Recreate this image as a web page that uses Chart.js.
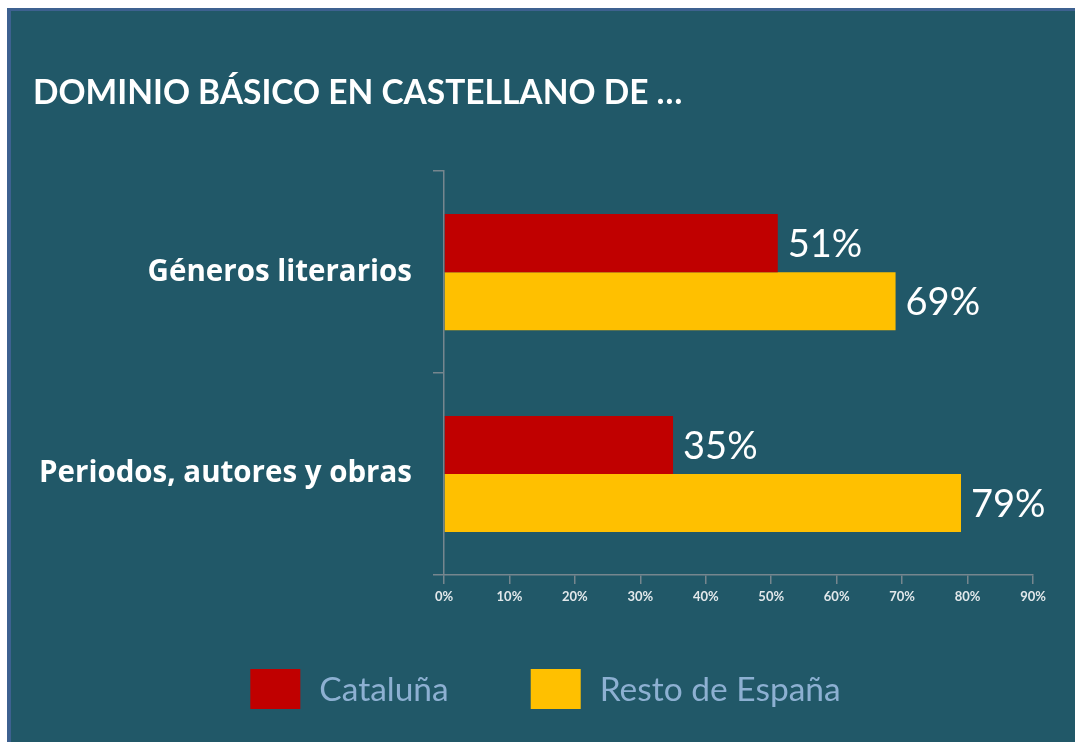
<!DOCTYPE html>
<html>
<head>
<meta charset="utf-8">
<script src="https://cdn.jsdelivr.net/npm/chart.js@4.4.1/dist/chart.umd.min.js"></script>
<style>
    body { margin: 0; background: #ffffff; }
    #wrap { width: 1075px; height: 742px; }
</style>
</head>
<body>
<div id="wrap"><canvas id="chart"></canvas></div>
<script>
const categories = ["Géneros literarios", "Periodos, autores y obras"];
const seriesNames = ["Cataluña", "Resto de España"];
const cataluna = [51, 35];
const restoEspana = [69, 79];
const xTicks = [0, 10, 20, 30, 40, 50, 60, 70, 80, 90];

const BG = "#215868";
const AXIS = "#76868e";

// Frame and teal panel behind everything
const panelPlugin = {
    id: "panel",
    beforeDraw(chart) {
        const { ctx, width, height } = chart;
        ctx.save();
        ctx.fillStyle = "#ffffff";
        ctx.fillRect(0, 0, width, height);
        ctx.fillStyle = "#3d6190";
        ctx.fillRect(7, 8, width - 7, height - 8);
        ctx.fillStyle = BG;
        ctx.fillRect(11, 11, width - 11, height - 11);
        ctx.restore();
    }
};

// Value labels at the end of each bar
const valueLabels = {
    id: "valueLabels",
    afterDatasetsDraw(chart) {
        const { ctx } = chart;
        ctx.save();
        ctx.font = "38px Lato";
        ctx.fillStyle = "#ffffff";
        ctx.textAlign = "left";
        ctx.textBaseline = "middle";
        chart.data.datasets.forEach((ds, i) => {
            chart.getDatasetMeta(i).data.forEach((bar, j) => {
                ctx.fillText(ds.data[j] + "%", bar.x + 10, bar.y + 2);
            });
        });
        ctx.restore();
    }
};

// Legend drawn below the axis, big boxes spaced apart
const bottomLegend = {
    id: "bottomLegend",
    afterDraw(chart) {
        const { ctx, width } = chart;
        const boxW = 50, boxH = 40, textGap = 19, itemGap = 82;
        ctx.save();
        ctx.font = "33.5px Lato";
        ctx.textBaseline = "middle";
        ctx.textAlign = "left";
        const items = chart.data.datasets.map(ds => ({
            label: ds.label,
            color: ds.backgroundColor,
            w: ctx.measureText(ds.label).width
        }));
        const total = items.reduce((s, it) => s + boxW + textGap + it.w, 0) + itemGap * (items.length - 1);
        let x = width / 2 + 8 - total / 2;
        const top = 669;
        items.forEach(it => {
            ctx.fillStyle = it.color;
            ctx.fillRect(x, top, boxW, boxH);
            ctx.fillStyle = "#8db0d2";
            ctx.fillText(it.label, x + boxW + textGap, top + boxH / 2 + 1);
            x += boxW + textGap + it.w + itemGap;
        });
        ctx.restore();
    }
};

new Chart(document.getElementById("chart"), {
    type: "bar",
    data: {
        labels: categories,
        datasets: [
            { label: seriesNames[0], data: cataluna, backgroundColor: "#c00000" },
            { label: seriesNames[1], data: restoEspana, backgroundColor: "#ffc000" }
        ]
    },
    options: {
        indexAxis: "y",
        responsive: true,
        maintainAspectRatio: false,
        animation: false,
        layout: { padding: { top: 10, left: 33, right: 42, bottom: 135 } },
        datasets: {
            bar: { categoryPercentage: 0.575, barPercentage: 1.0 }
        },
        plugins: {
            legend: { display: false },
            tooltip: { enabled: false },
            title: {
                display: true,
                text: "DOMINIO BÁSICO EN CASTELLANO DE …",
                align: "start",
                color: "#ffffff",
                font: { family: "Lato", size: 33.5, weight: "bold" },
                padding: { top: 63, bottom: 58 }
            }
        },
        scales: {
            x: {
                min: 0,
                max: 90,
                afterBuildTicks: scale => { scale.ticks = xTicks.map(v => ({ value: v })); },
                afterFit: scale => { scale.height = 32; },
                ticks: {
                    callback: v => v + "%",
                    color: "#e2e8eb",
                    font: { family: "Lato", size: 13, weight: "bold" },
                    padding: 5,
                    maxRotation: 0
                },
                grid: { drawOnChartArea: false, color: AXIS, tickLength: 9, lineWidth: 1.5 },
                border: { color: AXIS, width: 1.5 }
            },
            y: {
                afterFit: scale => { scale.width = 411; },
                ticks: {
                    color: "#ffffff",
                    font: { family: "Open Sans", size: 29.5, weight: "bold" },
                    padding: 21
                },
                grid: { drawOnChartArea: false, color: AXIS, tickLength: 11, lineWidth: 1.5 },
                border: { color: AXIS, width: 1.5 }
            }
        }
    },
    plugins: [panelPlugin, valueLabels, bottomLegend]
});
</script>
</body>
</html>
